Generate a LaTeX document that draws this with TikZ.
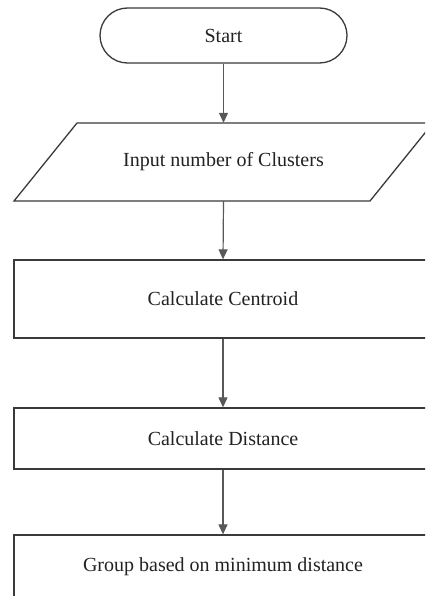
\documentclass[tikz,border=0pt]{standalone}
\usepackage{fontspec}
\setmainfont{Liberation Serif}
\usetikzlibrary{arrows.meta}
\definecolor{linec}{HTML}{3A3A3A}
\definecolor{textc}{HTML}{222222}
\tikzset{
  box/.style={draw=linec, line width=1.3pt, minimum width=418pt, inner sep=0pt, text=textc, font=\fontsize{20}{23}\selectfont},
  term/.style={draw=linec, line width=1.3pt, minimum width=247pt, minimum height=55pt, rounded corners=27.5pt, inner sep=0pt, text=textc, font=\fontsize{20}{23}\selectfont},
  lbl/.style={inner sep=0pt, text=textc, font=\fontsize{20}{23}\selectfont},
  flow/.style={draw=linec!85, line width=1.2pt, -{Triangle[length=10pt,width=9pt]}}
}
\begin{document}
\begin{tikzpicture}[x=1pt,y=-1pt]
\useasboundingbox (0,0) rectangle (425,596);
\clip (0,0) rectangle (425,596);
\fill[white] (0,0) rectangle (425,596);
\node[term] (start) at (223.5,35.5) {Start};
\draw[linec, line width=1.3pt] (77,123) -- (433,123) -- (370,201) -- (14,201) -- cycle;
\node[lbl, minimum width=356pt, minimum height=78pt] (input) at (223.5,162) {Input number of Clusters};
\node[box, minimum height=78pt] (cent) at (223,299) {Calculate Centroid};
\node[box, minimum height=61pt] (dist) at (223,438.5) {Calculate Distance};
\node[box, minimum height=64pt] (group) at (223,567) {Group based on minimum distance};
\draw[flow] (start.south) -- (input.north);
\draw[flow] (input.south) -- (cent.north);
\draw[flow] (cent.south) -- (dist.north);
\draw[flow] (dist.south) -- (group.north);
\end{tikzpicture}
\end{document}
